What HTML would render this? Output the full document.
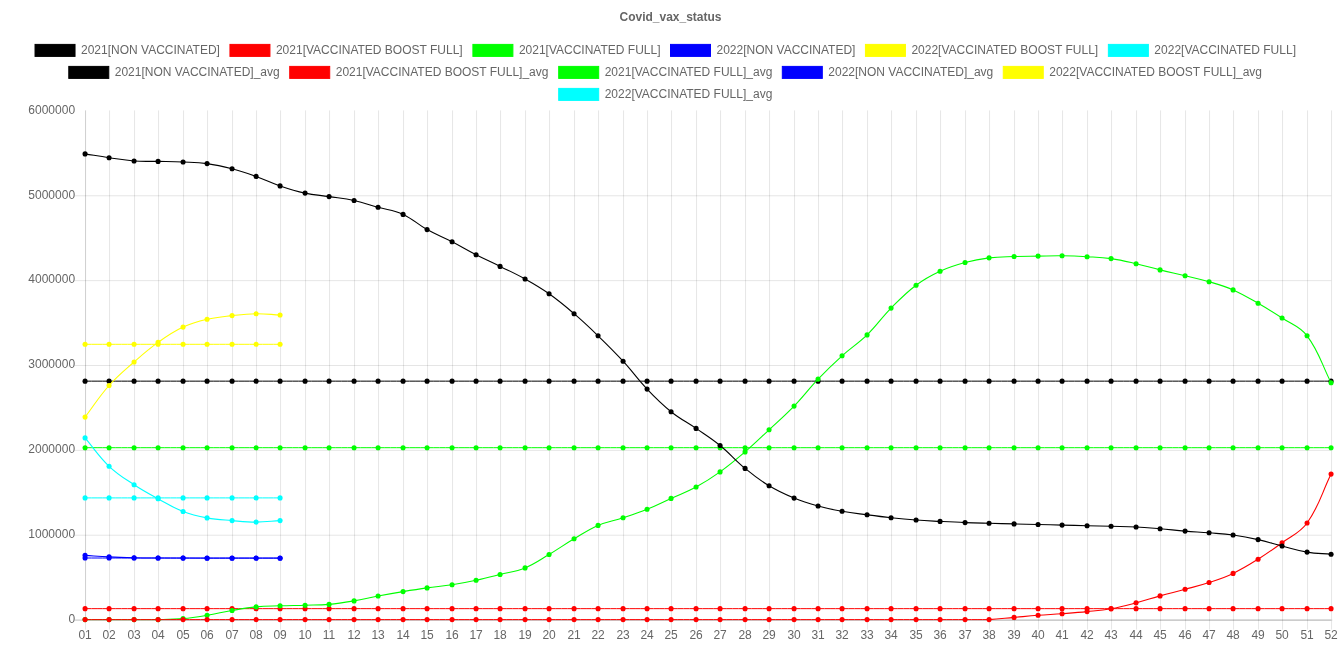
<!DOCTYPE html>
<html lang="en"><head><meta charset="utf-8"><title>Covid_vax_status</title>
<style>html,body{margin:0;padding:0;background:#fff;}body{width:1341px;height:670px;overflow:hidden;}svg{display:block;}</style></head>
<body>
<svg xmlns="http://www.w3.org/2000/svg" width="1341" height="670" viewBox="0 0 1341 670" font-family='"Liberation Sans", "Helvetica Neue", Helvetica, Arial, sans-serif' font-size="12" fill="#666">
<text x="670.5" y="21" text-anchor="middle" font-weight="bold">Covid_vax_status</text>
<rect x="35.03" y="44.4" width="40" height="12" fill="#000000" stroke="#000000" stroke-width="1"/>
<text x="81.03" y="54">2021[NON VACCINATED]</text>
<rect x="229.95" y="44.4" width="40" height="12" fill="#ff0000" stroke="#ff0000" stroke-width="1"/>
<text x="275.95" y="54">2021[VACCINATED BOOST FULL]</text>
<rect x="472.9" y="44.4" width="40" height="12" fill="#00ff00" stroke="#00ff00" stroke-width="1"/>
<text x="518.9" y="54">2021[VACCINATED FULL]</text>
<rect x="670.5" y="44.4" width="40" height="12" fill="#0000ff" stroke="#0000ff" stroke-width="1"/>
<text x="716.5" y="54">2022[NON VACCINATED]</text>
<rect x="865.43" y="44.4" width="40" height="12" fill="#ffff00" stroke="#ffff00" stroke-width="1"/>
<text x="911.43" y="54">2022[VACCINATED BOOST FULL]</text>
<rect x="1108.37" y="44.4" width="40" height="12" fill="#00ffff" stroke="#00ffff" stroke-width="1"/>
<text x="1154.37" y="54">2022[VACCINATED FULL]</text>
<rect x="68.78" y="66.4" width="40" height="12" fill="#000000" stroke="#000000" stroke-width="1"/>
<text x="114.78" y="76">2021[NON VACCINATED]_avg</text>
<rect x="289.72" y="66.4" width="40" height="12" fill="#ff0000" stroke="#ff0000" stroke-width="1"/>
<text x="335.72" y="76">2021[VACCINATED BOOST FULL]_avg</text>
<rect x="558.69" y="66.4" width="40" height="12" fill="#00ff00" stroke="#00ff00" stroke-width="1"/>
<text x="604.69" y="76">2021[VACCINATED FULL]_avg</text>
<rect x="782.31" y="66.4" width="40" height="12" fill="#0000ff" stroke="#0000ff" stroke-width="1"/>
<text x="828.31" y="76">2022[NON VACCINATED]_avg</text>
<rect x="1003.26" y="66.4" width="40" height="12" fill="#ffff00" stroke="#ffff00" stroke-width="1"/>
<text x="1049.26" y="76">2022[VACCINATED BOOST FULL]_avg</text>
<rect x="558.69" y="88.4" width="40" height="12" fill="#00ffff" stroke="#00ffff" stroke-width="1"/>
<text x="604.69" y="98">2022[VACCINATED FULL]_avg</text>
<g fill="none" stroke-width="1"><path d="M85.57 110.4V629.6" stroke="rgba(0,0,0,0.1)"/><path d="M109.57 110.4V629.6" stroke="rgba(0,0,0,0.1)"/><path d="M134.57 110.4V629.6" stroke="rgba(0,0,0,0.1)"/><path d="M158.57 110.4V629.6" stroke="rgba(0,0,0,0.1)"/><path d="M183.57 110.4V629.6" stroke="rgba(0,0,0,0.1)"/><path d="M207.57 110.4V629.6" stroke="rgba(0,0,0,0.1)"/><path d="M232.57 110.4V629.6" stroke="rgba(0,0,0,0.1)"/><path d="M256.57 110.4V629.6" stroke="rgba(0,0,0,0.1)"/><path d="M280.57 110.4V629.6" stroke="rgba(0,0,0,0.1)"/><path d="M305.57 110.4V629.6" stroke="rgba(0,0,0,0.1)"/><path d="M329.57 110.4V629.6" stroke="rgba(0,0,0,0.1)"/><path d="M354.57 110.4V629.6" stroke="rgba(0,0,0,0.1)"/><path d="M378.57 110.4V629.6" stroke="rgba(0,0,0,0.1)"/><path d="M403.57 110.4V629.6" stroke="rgba(0,0,0,0.1)"/><path d="M427.57 110.4V629.6" stroke="rgba(0,0,0,0.1)"/><path d="M452.57 110.4V629.6" stroke="rgba(0,0,0,0.1)"/><path d="M476.57 110.4V629.6" stroke="rgba(0,0,0,0.1)"/><path d="M500.57 110.4V629.6" stroke="rgba(0,0,0,0.1)"/><path d="M525.57 110.4V629.6" stroke="rgba(0,0,0,0.1)"/><path d="M549.57 110.4V629.6" stroke="rgba(0,0,0,0.1)"/><path d="M574.57 110.4V629.6" stroke="rgba(0,0,0,0.1)"/><path d="M598.57 110.4V629.6" stroke="rgba(0,0,0,0.1)"/><path d="M623.57 110.4V629.6" stroke="rgba(0,0,0,0.1)"/><path d="M647.57 110.4V629.6" stroke="rgba(0,0,0,0.1)"/><path d="M671.57 110.4V629.6" stroke="rgba(0,0,0,0.1)"/><path d="M696.57 110.4V629.6" stroke="rgba(0,0,0,0.1)"/><path d="M720.57 110.4V629.6" stroke="rgba(0,0,0,0.1)"/><path d="M745.57 110.4V629.6" stroke="rgba(0,0,0,0.1)"/><path d="M769.57 110.4V629.6" stroke="rgba(0,0,0,0.1)"/><path d="M794.57 110.4V629.6" stroke="rgba(0,0,0,0.1)"/><path d="M818.57 110.4V629.6" stroke="rgba(0,0,0,0.1)"/><path d="M842.57 110.4V629.6" stroke="rgba(0,0,0,0.1)"/><path d="M867.57 110.4V629.6" stroke="rgba(0,0,0,0.1)"/><path d="M891.57 110.4V629.6" stroke="rgba(0,0,0,0.1)"/><path d="M916.57 110.4V629.6" stroke="rgba(0,0,0,0.1)"/><path d="M940.57 110.4V629.6" stroke="rgba(0,0,0,0.1)"/><path d="M965.57 110.4V629.6" stroke="rgba(0,0,0,0.1)"/><path d="M989.57 110.4V629.6" stroke="rgba(0,0,0,0.1)"/><path d="M1014.57 110.4V629.6" stroke="rgba(0,0,0,0.1)"/><path d="M1038.57 110.4V629.6" stroke="rgba(0,0,0,0.1)"/><path d="M1062.57 110.4V629.6" stroke="rgba(0,0,0,0.1)"/><path d="M1087.57 110.4V629.6" stroke="rgba(0,0,0,0.1)"/><path d="M1111.57 110.4V629.6" stroke="rgba(0,0,0,0.1)"/><path d="M1136.57 110.4V629.6" stroke="rgba(0,0,0,0.1)"/><path d="M1160.57 110.4V629.6" stroke="rgba(0,0,0,0.1)"/><path d="M1185.57 110.4V629.6" stroke="rgba(0,0,0,0.1)"/><path d="M1209.57 110.4V629.6" stroke="rgba(0,0,0,0.1)"/><path d="M1233.57 110.4V629.6" stroke="rgba(0,0,0,0.1)"/><path d="M1258.57 110.4V629.6" stroke="rgba(0,0,0,0.1)"/><path d="M1282.57 110.4V629.6" stroke="rgba(0,0,0,0.1)"/><path d="M1307.57 110.4V629.6" stroke="rgba(0,0,0,0.1)"/><path d="M1331.57 110.4V629.6" stroke="rgba(0,0,0,0.1)"/><path d="M75.07 620.1H1331.25" stroke="rgba(0,0,0,0.25)"/><path d="M75.07 535.23H1331.25" stroke="rgba(0,0,0,0.1)"/><path d="M75.07 450.37H1331.25" stroke="rgba(0,0,0,0.1)"/><path d="M75.07 365.5H1331.25" stroke="rgba(0,0,0,0.1)"/><path d="M75.07 280.63H1331.25" stroke="rgba(0,0,0,0.1)"/><path d="M75.07 195.77H1331.25" stroke="rgba(0,0,0,0.1)"/><path d="M85.57 110.4V619.6" stroke="rgba(0,0,0,0.1)"/><path d="M85.07 620.1H1332.55" stroke="rgba(0,0,0,0.1)"/></g>
<text x="75.07" y="623" text-anchor="end">0</text>
<text x="75.07" y="538" text-anchor="end">1000000</text>
<text x="75.07" y="453" text-anchor="end">2000000</text>
<text x="75.07" y="368" text-anchor="end">3000000</text>
<text x="75.07" y="283" text-anchor="end">4000000</text>
<text x="75.07" y="199" text-anchor="end">5000000</text>
<text x="75.07" y="114" text-anchor="end">6000000</text>
<text x="85.07" y="639" text-anchor="middle">01</text>
<text x="109.07" y="639" text-anchor="middle">02</text>
<text x="134.07" y="639" text-anchor="middle">03</text>
<text x="158.07" y="639" text-anchor="middle">04</text>
<text x="183.07" y="639" text-anchor="middle">05</text>
<text x="207.07" y="639" text-anchor="middle">06</text>
<text x="232.07" y="639" text-anchor="middle">07</text>
<text x="256.07" y="639" text-anchor="middle">08</text>
<text x="280.07" y="639" text-anchor="middle">09</text>
<text x="305.07" y="639" text-anchor="middle">10</text>
<text x="329.07" y="639" text-anchor="middle">11</text>
<text x="354.07" y="639" text-anchor="middle">12</text>
<text x="378.07" y="639" text-anchor="middle">13</text>
<text x="403.07" y="639" text-anchor="middle">14</text>
<text x="427.07" y="639" text-anchor="middle">15</text>
<text x="452.07" y="639" text-anchor="middle">16</text>
<text x="476.07" y="639" text-anchor="middle">17</text>
<text x="500.07" y="639" text-anchor="middle">18</text>
<text x="525.07" y="639" text-anchor="middle">19</text>
<text x="549.07" y="639" text-anchor="middle">20</text>
<text x="574.07" y="639" text-anchor="middle">21</text>
<text x="598.07" y="639" text-anchor="middle">22</text>
<text x="623.07" y="639" text-anchor="middle">23</text>
<text x="647.07" y="639" text-anchor="middle">24</text>
<text x="671.07" y="639" text-anchor="middle">25</text>
<text x="696.07" y="639" text-anchor="middle">26</text>
<text x="720.07" y="639" text-anchor="middle">27</text>
<text x="745.07" y="639" text-anchor="middle">28</text>
<text x="769.07" y="639" text-anchor="middle">29</text>
<text x="794.07" y="639" text-anchor="middle">30</text>
<text x="818.07" y="639" text-anchor="middle">31</text>
<text x="842.07" y="639" text-anchor="middle">32</text>
<text x="867.07" y="639" text-anchor="middle">33</text>
<text x="891.07" y="639" text-anchor="middle">34</text>
<text x="916.07" y="639" text-anchor="middle">35</text>
<text x="940.07" y="639" text-anchor="middle">36</text>
<text x="965.07" y="639" text-anchor="middle">37</text>
<text x="989.07" y="639" text-anchor="middle">38</text>
<text x="1014.07" y="639" text-anchor="middle">39</text>
<text x="1038.07" y="639" text-anchor="middle">40</text>
<text x="1062.07" y="639" text-anchor="middle">41</text>
<text x="1087.07" y="639" text-anchor="middle">42</text>
<text x="1111.07" y="639" text-anchor="middle">43</text>
<text x="1136.07" y="639" text-anchor="middle">44</text>
<text x="1160.07" y="639" text-anchor="middle">45</text>
<text x="1185.07" y="639" text-anchor="middle">46</text>
<text x="1209.07" y="639" text-anchor="middle">47</text>
<text x="1233.07" y="639" text-anchor="middle">48</text>
<text x="1258.07" y="639" text-anchor="middle">49</text>
<text x="1282.07" y="639" text-anchor="middle">50</text>
<text x="1307.07" y="639" text-anchor="middle">51</text>
<text x="1331.07" y="639" text-anchor="middle">52</text>
<defs><clipPath id="ca"><rect x="85.07" y="110.4" width="1246.18" height="509.2"/></clipPath></defs>
<path d="M85.07 497.9C94.67 497.9 99.47 497.9 109.07 497.9C119.07 497.9 124.07 497.9 134.07 497.9C143.67 497.9 148.47 497.9 158.07 497.9C168.07 497.9 173.07 497.9 183.07 497.9C192.67 497.9 197.47 497.9 207.07 497.9C217.07 497.9 222.07 497.9 232.07 497.9C241.67 497.9 246.47 497.9 256.07 497.9C265.67 497.9 270.47 497.9 280.07 497.9" fill="none" stroke="#00ffff" stroke-width="1"/>
<g fill="#00ffff" stroke="#00ffff" stroke-width="0"><circle cx="85.07" cy="497.9" r="2.55"/><circle cx="109.07" cy="497.9" r="2.55"/><circle cx="134.07" cy="497.9" r="2.55"/><circle cx="158.07" cy="497.9" r="2.55"/><circle cx="183.07" cy="497.9" r="2.55"/><circle cx="207.07" cy="497.9" r="2.55"/><circle cx="232.07" cy="497.9" r="2.55"/><circle cx="256.07" cy="497.9" r="2.55"/><circle cx="280.07" cy="497.9" r="2.55"/></g>
<path d="M85.07 344.3C94.67 344.3 99.47 344.3 109.07 344.3C119.07 344.3 124.07 344.3 134.07 344.3C143.67 344.3 148.47 344.3 158.07 344.3C168.07 344.3 173.07 344.3 183.07 344.3C192.67 344.3 197.47 344.3 207.07 344.3C217.07 344.3 222.07 344.3 232.07 344.3C241.67 344.3 246.47 344.3 256.07 344.3C265.67 344.3 270.47 344.3 280.07 344.3" fill="none" stroke="#ffff00" stroke-width="1"/>
<g fill="#ffff00" stroke="#ffff00" stroke-width="0"><circle cx="85.07" cy="344.3" r="2.55"/><circle cx="109.07" cy="344.3" r="2.55"/><circle cx="134.07" cy="344.3" r="2.55"/><circle cx="158.07" cy="344.3" r="2.55"/><circle cx="183.07" cy="344.3" r="2.55"/><circle cx="207.07" cy="344.3" r="2.55"/><circle cx="232.07" cy="344.3" r="2.55"/><circle cx="256.07" cy="344.3" r="2.55"/><circle cx="280.07" cy="344.3" r="2.55"/></g>
<path d="M85.07 558C94.67 558 99.47 558 109.07 558C119.07 558 124.07 558 134.07 558C143.67 558 148.47 558 158.07 558C168.07 558 173.07 558 183.07 558C192.67 558 197.47 558 207.07 558C217.07 558 222.07 558 232.07 558C241.67 558 246.47 558 256.07 558C265.67 558 270.47 558 280.07 558" fill="none" stroke="#0000ff" stroke-width="1"/>
<g fill="#0000ff" stroke="#0000ff" stroke-width="0"><circle cx="85.07" cy="558" r="2.55"/><circle cx="109.07" cy="558" r="2.55"/><circle cx="134.07" cy="558" r="2.55"/><circle cx="158.07" cy="558" r="2.55"/><circle cx="183.07" cy="558" r="2.55"/><circle cx="207.07" cy="558" r="2.55"/><circle cx="232.07" cy="558" r="2.55"/><circle cx="256.07" cy="558" r="2.55"/><circle cx="280.07" cy="558" r="2.55"/></g>
<path d="M85.07 447.7C94.67 447.7 99.47 447.7 109.07 447.7C119.07 447.7 124.07 447.7 134.07 447.7C143.67 447.7 148.47 447.7 158.07 447.7C168.07 447.7 173.07 447.7 183.07 447.7C192.67 447.7 197.47 447.7 207.07 447.7C217.07 447.7 222.07 447.7 232.07 447.7C241.67 447.7 246.47 447.7 256.07 447.7C265.67 447.7 270.47 447.7 280.07 447.7C290.07 447.7 295.07 447.7 305.07 447.7C314.67 447.7 319.47 447.7 329.07 447.7C339.07 447.7 344.07 447.7 354.07 447.7C363.67 447.7 368.47 447.7 378.07 447.7C388.07 447.7 393.07 447.7 403.07 447.7C412.67 447.7 417.47 447.7 427.07 447.7C437.07 447.7 442.07 447.7 452.07 447.7C461.67 447.7 466.47 447.7 476.07 447.7C485.67 447.7 490.47 447.7 500.07 447.7C510.07 447.7 515.07 447.7 525.07 447.7C534.67 447.7 539.47 447.7 549.07 447.7C559.07 447.7 564.07 447.7 574.07 447.7C583.67 447.7 588.47 447.7 598.07 447.7C608.07 447.7 613.07 447.7 623.07 447.7C632.67 447.7 637.47 447.7 647.07 447.7C656.67 447.7 661.47 447.7 671.07 447.7C681.07 447.7 686.07 447.7 696.07 447.7C705.67 447.7 710.47 447.7 720.07 447.7C730.07 447.7 735.07 447.7 745.07 447.7C754.67 447.7 759.47 447.7 769.07 447.7C779.07 447.7 784.07 447.7 794.07 447.7C803.67 447.7 808.47 447.7 818.07 447.7C827.67 447.7 832.47 447.7 842.07 447.7C852.07 447.7 857.07 447.7 867.07 447.7C876.67 447.7 881.47 447.7 891.07 447.7C901.07 447.7 906.07 447.7 916.07 447.7C925.67 447.7 930.47 447.7 940.07 447.7C950.07 447.7 955.07 447.7 965.07 447.7C974.67 447.7 979.47 447.7 989.07 447.7C999.07 447.7 1004.07 447.7 1014.07 447.7C1023.67 447.7 1028.47 447.7 1038.07 447.7C1047.67 447.7 1052.47 447.7 1062.07 447.7C1072.07 447.7 1077.07 447.7 1087.07 447.7C1096.67 447.7 1101.47 447.7 1111.07 447.7C1121.07 447.7 1126.07 447.7 1136.07 447.7C1145.67 447.7 1150.47 447.7 1160.07 447.7C1170.07 447.7 1175.07 447.7 1185.07 447.7C1194.67 447.7 1199.47 447.7 1209.07 447.7C1218.67 447.7 1223.47 447.7 1233.07 447.7C1243.07 447.7 1248.07 447.7 1258.07 447.7C1267.67 447.7 1272.47 447.7 1282.07 447.7C1292.07 447.7 1297.07 447.7 1307.07 447.7C1316.67 447.7 1321.47 447.7 1331.07 447.7" fill="none" stroke="#00ff00" stroke-width="1"/>
<g fill="#00ff00" stroke="#00ff00" stroke-width="0"><circle cx="85.07" cy="447.7" r="2.55"/><circle cx="109.07" cy="447.7" r="2.55"/><circle cx="134.07" cy="447.7" r="2.55"/><circle cx="158.07" cy="447.7" r="2.55"/><circle cx="183.07" cy="447.7" r="2.55"/><circle cx="207.07" cy="447.7" r="2.55"/><circle cx="232.07" cy="447.7" r="2.55"/><circle cx="256.07" cy="447.7" r="2.55"/><circle cx="280.07" cy="447.7" r="2.55"/><circle cx="305.07" cy="447.7" r="2.55"/><circle cx="329.07" cy="447.7" r="2.55"/><circle cx="354.07" cy="447.7" r="2.55"/><circle cx="378.07" cy="447.7" r="2.55"/><circle cx="403.07" cy="447.7" r="2.55"/><circle cx="427.07" cy="447.7" r="2.55"/><circle cx="452.07" cy="447.7" r="2.55"/><circle cx="476.07" cy="447.7" r="2.55"/><circle cx="500.07" cy="447.7" r="2.55"/><circle cx="525.07" cy="447.7" r="2.55"/><circle cx="549.07" cy="447.7" r="2.55"/><circle cx="574.07" cy="447.7" r="2.55"/><circle cx="598.07" cy="447.7" r="2.55"/><circle cx="623.07" cy="447.7" r="2.55"/><circle cx="647.07" cy="447.7" r="2.55"/><circle cx="671.07" cy="447.7" r="2.55"/><circle cx="696.07" cy="447.7" r="2.55"/><circle cx="720.07" cy="447.7" r="2.55"/><circle cx="745.07" cy="447.7" r="2.55"/><circle cx="769.07" cy="447.7" r="2.55"/><circle cx="794.07" cy="447.7" r="2.55"/><circle cx="818.07" cy="447.7" r="2.55"/><circle cx="842.07" cy="447.7" r="2.55"/><circle cx="867.07" cy="447.7" r="2.55"/><circle cx="891.07" cy="447.7" r="2.55"/><circle cx="916.07" cy="447.7" r="2.55"/><circle cx="940.07" cy="447.7" r="2.55"/><circle cx="965.07" cy="447.7" r="2.55"/><circle cx="989.07" cy="447.7" r="2.55"/><circle cx="1014.07" cy="447.7" r="2.55"/><circle cx="1038.07" cy="447.7" r="2.55"/><circle cx="1062.07" cy="447.7" r="2.55"/><circle cx="1087.07" cy="447.7" r="2.55"/><circle cx="1111.07" cy="447.7" r="2.55"/><circle cx="1136.07" cy="447.7" r="2.55"/><circle cx="1160.07" cy="447.7" r="2.55"/><circle cx="1185.07" cy="447.7" r="2.55"/><circle cx="1209.07" cy="447.7" r="2.55"/><circle cx="1233.07" cy="447.7" r="2.55"/><circle cx="1258.07" cy="447.7" r="2.55"/><circle cx="1282.07" cy="447.7" r="2.55"/><circle cx="1307.07" cy="447.7" r="2.55"/><circle cx="1331.07" cy="447.7" r="2.55"/></g>
<path d="M85.07 608.65C94.67 608.65 99.47 608.65 109.07 608.65C119.07 608.65 124.07 608.65 134.07 608.65C143.67 608.65 148.47 608.65 158.07 608.65C168.07 608.65 173.07 608.65 183.07 608.65C192.67 608.65 197.47 608.65 207.07 608.65C217.07 608.65 222.07 608.65 232.07 608.65C241.67 608.65 246.47 608.65 256.07 608.65C265.67 608.65 270.47 608.65 280.07 608.65C290.07 608.65 295.07 608.65 305.07 608.65C314.67 608.65 319.47 608.65 329.07 608.65C339.07 608.65 344.07 608.65 354.07 608.65C363.67 608.65 368.47 608.65 378.07 608.65C388.07 608.65 393.07 608.65 403.07 608.65C412.67 608.65 417.47 608.65 427.07 608.65C437.07 608.65 442.07 608.65 452.07 608.65C461.67 608.65 466.47 608.65 476.07 608.65C485.67 608.65 490.47 608.65 500.07 608.65C510.07 608.65 515.07 608.65 525.07 608.65C534.67 608.65 539.47 608.65 549.07 608.65C559.07 608.65 564.07 608.65 574.07 608.65C583.67 608.65 588.47 608.65 598.07 608.65C608.07 608.65 613.07 608.65 623.07 608.65C632.67 608.65 637.47 608.65 647.07 608.65C656.67 608.65 661.47 608.65 671.07 608.65C681.07 608.65 686.07 608.65 696.07 608.65C705.67 608.65 710.47 608.65 720.07 608.65C730.07 608.65 735.07 608.65 745.07 608.65C754.67 608.65 759.47 608.65 769.07 608.65C779.07 608.65 784.07 608.65 794.07 608.65C803.67 608.65 808.47 608.65 818.07 608.65C827.67 608.65 832.47 608.65 842.07 608.65C852.07 608.65 857.07 608.65 867.07 608.65C876.67 608.65 881.47 608.65 891.07 608.65C901.07 608.65 906.07 608.65 916.07 608.65C925.67 608.65 930.47 608.65 940.07 608.65C950.07 608.65 955.07 608.65 965.07 608.65C974.67 608.65 979.47 608.65 989.07 608.65C999.07 608.65 1004.07 608.65 1014.07 608.65C1023.67 608.65 1028.47 608.65 1038.07 608.65C1047.67 608.65 1052.47 608.65 1062.07 608.65C1072.07 608.65 1077.07 608.65 1087.07 608.65C1096.67 608.65 1101.47 608.65 1111.07 608.65C1121.07 608.65 1126.07 608.65 1136.07 608.65C1145.67 608.65 1150.47 608.65 1160.07 608.65C1170.07 608.65 1175.07 608.65 1185.07 608.65C1194.67 608.65 1199.47 608.65 1209.07 608.65C1218.67 608.65 1223.47 608.65 1233.07 608.65C1243.07 608.65 1248.07 608.65 1258.07 608.65C1267.67 608.65 1272.47 608.65 1282.07 608.65C1292.07 608.65 1297.07 608.65 1307.07 608.65C1316.67 608.65 1321.47 608.65 1331.07 608.65" fill="none" stroke="#ff0000" stroke-width="1"/>
<g fill="#ff0000" stroke="#ff0000" stroke-width="0"><circle cx="85.07" cy="608.65" r="2.55"/><circle cx="109.07" cy="608.65" r="2.55"/><circle cx="134.07" cy="608.65" r="2.55"/><circle cx="158.07" cy="608.65" r="2.55"/><circle cx="183.07" cy="608.65" r="2.55"/><circle cx="207.07" cy="608.65" r="2.55"/><circle cx="232.07" cy="608.65" r="2.55"/><circle cx="256.07" cy="608.65" r="2.55"/><circle cx="280.07" cy="608.65" r="2.55"/><circle cx="305.07" cy="608.65" r="2.55"/><circle cx="329.07" cy="608.65" r="2.55"/><circle cx="354.07" cy="608.65" r="2.55"/><circle cx="378.07" cy="608.65" r="2.55"/><circle cx="403.07" cy="608.65" r="2.55"/><circle cx="427.07" cy="608.65" r="2.55"/><circle cx="452.07" cy="608.65" r="2.55"/><circle cx="476.07" cy="608.65" r="2.55"/><circle cx="500.07" cy="608.65" r="2.55"/><circle cx="525.07" cy="608.65" r="2.55"/><circle cx="549.07" cy="608.65" r="2.55"/><circle cx="574.07" cy="608.65" r="2.55"/><circle cx="598.07" cy="608.65" r="2.55"/><circle cx="623.07" cy="608.65" r="2.55"/><circle cx="647.07" cy="608.65" r="2.55"/><circle cx="671.07" cy="608.65" r="2.55"/><circle cx="696.07" cy="608.65" r="2.55"/><circle cx="720.07" cy="608.65" r="2.55"/><circle cx="745.07" cy="608.65" r="2.55"/><circle cx="769.07" cy="608.65" r="2.55"/><circle cx="794.07" cy="608.65" r="2.55"/><circle cx="818.07" cy="608.65" r="2.55"/><circle cx="842.07" cy="608.65" r="2.55"/><circle cx="867.07" cy="608.65" r="2.55"/><circle cx="891.07" cy="608.65" r="2.55"/><circle cx="916.07" cy="608.65" r="2.55"/><circle cx="940.07" cy="608.65" r="2.55"/><circle cx="965.07" cy="608.65" r="2.55"/><circle cx="989.07" cy="608.65" r="2.55"/><circle cx="1014.07" cy="608.65" r="2.55"/><circle cx="1038.07" cy="608.65" r="2.55"/><circle cx="1062.07" cy="608.65" r="2.55"/><circle cx="1087.07" cy="608.65" r="2.55"/><circle cx="1111.07" cy="608.65" r="2.55"/><circle cx="1136.07" cy="608.65" r="2.55"/><circle cx="1160.07" cy="608.65" r="2.55"/><circle cx="1185.07" cy="608.65" r="2.55"/><circle cx="1209.07" cy="608.65" r="2.55"/><circle cx="1233.07" cy="608.65" r="2.55"/><circle cx="1258.07" cy="608.65" r="2.55"/><circle cx="1282.07" cy="608.65" r="2.55"/><circle cx="1307.07" cy="608.65" r="2.55"/><circle cx="1331.07" cy="608.65" r="2.55"/></g>
<path d="M85.07 381.15C94.67 381.15 99.47 381.15 109.07 381.15C119.07 381.15 124.07 381.15 134.07 381.15C143.67 381.15 148.47 381.15 158.07 381.15C168.07 381.15 173.07 381.15 183.07 381.15C192.67 381.15 197.47 381.15 207.07 381.15C217.07 381.15 222.07 381.15 232.07 381.15C241.67 381.15 246.47 381.15 256.07 381.15C265.67 381.15 270.47 381.15 280.07 381.15C290.07 381.15 295.07 381.15 305.07 381.15C314.67 381.15 319.47 381.15 329.07 381.15C339.07 381.15 344.07 381.15 354.07 381.15C363.67 381.15 368.47 381.15 378.07 381.15C388.07 381.15 393.07 381.15 403.07 381.15C412.67 381.15 417.47 381.15 427.07 381.15C437.07 381.15 442.07 381.15 452.07 381.15C461.67 381.15 466.47 381.15 476.07 381.15C485.67 381.15 490.47 381.15 500.07 381.15C510.07 381.15 515.07 381.15 525.07 381.15C534.67 381.15 539.47 381.15 549.07 381.15C559.07 381.15 564.07 381.15 574.07 381.15C583.67 381.15 588.47 381.15 598.07 381.15C608.07 381.15 613.07 381.15 623.07 381.15C632.67 381.15 637.47 381.15 647.07 381.15C656.67 381.15 661.47 381.15 671.07 381.15C681.07 381.15 686.07 381.15 696.07 381.15C705.67 381.15 710.47 381.15 720.07 381.15C730.07 381.15 735.07 381.15 745.07 381.15C754.67 381.15 759.47 381.15 769.07 381.15C779.07 381.15 784.07 381.15 794.07 381.15C803.67 381.15 808.47 381.15 818.07 381.15C827.67 381.15 832.47 381.15 842.07 381.15C852.07 381.15 857.07 381.15 867.07 381.15C876.67 381.15 881.47 381.15 891.07 381.15C901.07 381.15 906.07 381.15 916.07 381.15C925.67 381.15 930.47 381.15 940.07 381.15C950.07 381.15 955.07 381.15 965.07 381.15C974.67 381.15 979.47 381.15 989.07 381.15C999.07 381.15 1004.07 381.15 1014.07 381.15C1023.67 381.15 1028.47 381.15 1038.07 381.15C1047.67 381.15 1052.47 381.15 1062.07 381.15C1072.07 381.15 1077.07 381.15 1087.07 381.15C1096.67 381.15 1101.47 381.15 1111.07 381.15C1121.07 381.15 1126.07 381.15 1136.07 381.15C1145.67 381.15 1150.47 381.15 1160.07 381.15C1170.07 381.15 1175.07 381.15 1185.07 381.15C1194.67 381.15 1199.47 381.15 1209.07 381.15C1218.67 381.15 1223.47 381.15 1233.07 381.15C1243.07 381.15 1248.07 381.15 1258.07 381.15C1267.67 381.15 1272.47 381.15 1282.07 381.15C1292.07 381.15 1297.07 381.15 1307.07 381.15C1316.67 381.15 1321.47 381.15 1331.07 381.15" fill="none" stroke="#000000" stroke-width="1"/>
<g fill="#000000" stroke="#000000" stroke-width="0"><circle cx="85.07" cy="381.15" r="2.55"/><circle cx="109.07" cy="381.15" r="2.55"/><circle cx="134.07" cy="381.15" r="2.55"/><circle cx="158.07" cy="381.15" r="2.55"/><circle cx="183.07" cy="381.15" r="2.55"/><circle cx="207.07" cy="381.15" r="2.55"/><circle cx="232.07" cy="381.15" r="2.55"/><circle cx="256.07" cy="381.15" r="2.55"/><circle cx="280.07" cy="381.15" r="2.55"/><circle cx="305.07" cy="381.15" r="2.55"/><circle cx="329.07" cy="381.15" r="2.55"/><circle cx="354.07" cy="381.15" r="2.55"/><circle cx="378.07" cy="381.15" r="2.55"/><circle cx="403.07" cy="381.15" r="2.55"/><circle cx="427.07" cy="381.15" r="2.55"/><circle cx="452.07" cy="381.15" r="2.55"/><circle cx="476.07" cy="381.15" r="2.55"/><circle cx="500.07" cy="381.15" r="2.55"/><circle cx="525.07" cy="381.15" r="2.55"/><circle cx="549.07" cy="381.15" r="2.55"/><circle cx="574.07" cy="381.15" r="2.55"/><circle cx="598.07" cy="381.15" r="2.55"/><circle cx="623.07" cy="381.15" r="2.55"/><circle cx="647.07" cy="381.15" r="2.55"/><circle cx="671.07" cy="381.15" r="2.55"/><circle cx="696.07" cy="381.15" r="2.55"/><circle cx="720.07" cy="381.15" r="2.55"/><circle cx="745.07" cy="381.15" r="2.55"/><circle cx="769.07" cy="381.15" r="2.55"/><circle cx="794.07" cy="381.15" r="2.55"/><circle cx="818.07" cy="381.15" r="2.55"/><circle cx="842.07" cy="381.15" r="2.55"/><circle cx="867.07" cy="381.15" r="2.55"/><circle cx="891.07" cy="381.15" r="2.55"/><circle cx="916.07" cy="381.15" r="2.55"/><circle cx="940.07" cy="381.15" r="2.55"/><circle cx="965.07" cy="381.15" r="2.55"/><circle cx="989.07" cy="381.15" r="2.55"/><circle cx="1014.07" cy="381.15" r="2.55"/><circle cx="1038.07" cy="381.15" r="2.55"/><circle cx="1062.07" cy="381.15" r="2.55"/><circle cx="1087.07" cy="381.15" r="2.55"/><circle cx="1111.07" cy="381.15" r="2.55"/><circle cx="1136.07" cy="381.15" r="2.55"/><circle cx="1160.07" cy="381.15" r="2.55"/><circle cx="1185.07" cy="381.15" r="2.55"/><circle cx="1209.07" cy="381.15" r="2.55"/><circle cx="1233.07" cy="381.15" r="2.55"/><circle cx="1258.07" cy="381.15" r="2.55"/><circle cx="1282.07" cy="381.15" r="2.55"/><circle cx="1307.07" cy="381.15" r="2.55"/><circle cx="1331.07" cy="381.15" r="2.55"/></g>
<path d="M85.07 437.9C94.67 449.26 98.39 456.1 109.07 466.3C117.99 474.82 123.73 477.86 134.07 484.7C143.33 490.82 148.32 493.37 158.07 498.7C167.92 504.09 172.67 507.42 183.07 511.5C192.27 515.1 197.33 516.09 207.07 517.9C216.93 519.73 222.05 519.74 232.07 520.6C241.65 521.42 246.47 522.1 256.07 522.1C265.67 522.1 270.47 521.2 280.07 520.6" fill="none" stroke="#00ffff" stroke-width="1.1"/>
<g fill="#00ffff" stroke="#00ffff" stroke-width="0"><circle cx="85.07" cy="437.9" r="2.55"/><circle cx="109.07" cy="466.3" r="2.55"/><circle cx="134.07" cy="484.7" r="2.55"/><circle cx="158.07" cy="498.7" r="2.55"/><circle cx="183.07" cy="511.5" r="2.55"/><circle cx="207.07" cy="517.9" r="2.55"/><circle cx="232.07" cy="520.6" r="2.55"/><circle cx="256.07" cy="522.1" r="2.55"/><circle cx="280.07" cy="520.6" r="2.55"/></g>
<path d="M85.07 417.1C94.67 404.46 98.56 397.32 109.07 385.5C118.16 375.28 123.77 371.06 134.07 362C143.37 353.82 148 349.57 158.07 342.4C167.6 335.61 172.54 332.07 183.07 327.1C192.14 322.83 197.28 321.6 207.07 319.3C216.88 317 222.03 316.75 232.07 315.6C241.63 314.51 246.46 313.82 256.07 313.7C265.66 313.58 270.47 314.48 280.07 315" fill="none" stroke="#ffff00" stroke-width="1.1"/>
<g fill="#ffff00" stroke="#ffff00" stroke-width="0"><circle cx="85.07" cy="417.1" r="2.55"/><circle cx="109.07" cy="385.5" r="2.55"/><circle cx="134.07" cy="362" r="2.55"/><circle cx="158.07" cy="342.4" r="2.55"/><circle cx="183.07" cy="327.1" r="2.55"/><circle cx="207.07" cy="319.3" r="2.55"/><circle cx="232.07" cy="315.6" r="2.55"/><circle cx="256.07" cy="313.7" r="2.55"/><circle cx="280.07" cy="315" r="2.55"/></g>
<path d="M85.07 555.4C94.67 556 99.46 556.45 109.07 556.9C119.06 557.37 124.07 557.48 134.07 557.7C143.67 557.92 148.47 557.92 158.07 558" fill="none" stroke="#0000ff" stroke-width="1.1"/>
<path d="M158.07 558C168.07 558.08 173.07 558.06 183.07 558.1C192.67 558.14 197.47 558.18 207.07 558.2C217.07 558.22 222.07 558.2 232.07 558.2C241.67 558.2 246.47 558.2 256.07 558.2C265.67 558.2 270.47 558.2 280.07 558.2" fill="none" stroke="#0000ff" stroke-width="1"/>
<g fill="#0000ff" stroke="#0000ff" stroke-width="0"><circle cx="85.07" cy="555.4" r="2.55"/><circle cx="109.07" cy="556.9" r="2.55"/><circle cx="134.07" cy="557.7" r="2.55"/><circle cx="158.07" cy="558" r="2.55"/><circle cx="183.07" cy="558.1" r="2.55"/><circle cx="207.07" cy="558.2" r="2.55"/><circle cx="232.07" cy="558.2" r="2.55"/><circle cx="256.07" cy="558.2" r="2.55"/><circle cx="280.07" cy="558.2" r="2.55"/></g>
<path d="M85.07 619.6C94.67 619.6 99.47 619.6 109.07 619.6C119.07 619.6 124.07 619.6 134.07 619.6C143.67 619.6 148.47 619.6 158.07 619.6" fill="none" stroke="#00ff00" stroke-width="1"/>
<path d="M158.07 619.6C168.07 619.4 173.11 619.47 183.07 618.6C192.71 617.75 197.51 616.88 207.07 615.3C217.11 613.64 222.04 612.22 232.07 610.5C241.64 608.86 246.42 607.84 256.07 606.9C265.62 605.96 270.47 606.13 280.07 605.8C290.07 605.45 295.07 605.49 305.07 605.2C314.67 604.93 319.51 605.24 329.07 604.4C339.11 603.52 344.12 602.61 354.07 600.9C363.72 599.25 368.44 597.83 378.07 596C388.04 594.11 393.05 593.26 403.07 591.6C412.65 590.02 417.45 589.24 427.07 587.9C437.05 586.52 442.12 586.34 452.07 584.8C461.72 583.3 466.52 582.35 476.07 580.3C485.72 578.23 490.5 576.92 500.07 574.5C510.1 571.96 515.57 571.78 525.07 567.9C535.17 563.78 539.62 560.11 549.07 554.5C559.22 548.47 563.92 544.83 574.07 538.8C583.52 533.19 588.02 529.71 598.07 525.4C607.62 521.31 613.14 521.06 623.07 517.8C632.74 514.62 637.64 513.11 647.07 509.3C656.84 505.35 661.47 502.77 671.07 498.4C681.07 493.85 686.42 492.22 696.07 487C706.02 481.62 710.86 478.49 720.07 471.9C730.46 464.45 735.36 460.24 745.07 451.9C754.96 443.4 759.54 438.71 769.07 429.8C779.14 420.39 784.5 416 794.07 406.1C804.1 395.72 808.1 389.55 818.07 379.1C827.3 369.43 832.14 364.76 842.07 355.8C851.74 347.08 857.75 343.97 867.07 334.9C877.35 324.89 880.98 318.33 891.07 308.1C900.58 298.45 905.3 293.31 916.07 285.2C924.9 278.55 930.03 275.85 940.07 271.2C949.63 266.77 954.88 265.28 965.07 262.5C974.48 259.94 979.39 259.04 989.07 257.85C998.99 256.64 1004.06 256.86 1014.07 256.5C1023.66 256.16 1028.47 256.24 1038.07 256.1C1047.67 255.96 1052.47 255.68 1062.07 255.8C1072.07 255.92 1077.08 256.13 1087.07 256.7C1096.68 257.25 1101.55 257.24 1111.07 258.6C1121.15 260.04 1126.13 261.41 1136.07 263.7C1145.73 265.93 1150.44 267.54 1160.07 269.9C1170.04 272.34 1175.09 273.3 1185.07 275.7C1194.69 278.02 1199.59 278.9 1209.07 281.7C1218.79 284.58 1223.82 285.82 1233.07 289.9C1243.42 294.46 1248.23 297.66 1258.07 303.3C1267.83 308.9 1272.69 311.78 1282.07 318C1292.29 324.78 1299.86 326.27 1307.07 335.8C1319.46 352.15 1321.47 363.94 1331.07 382.7" fill="none" stroke="#00ff00" stroke-width="1.1"/>
<g fill="#00ff00" stroke="#00ff00" stroke-width="0"><circle cx="85.07" cy="619.6" r="2.55"/><circle cx="109.07" cy="619.6" r="2.55"/><circle cx="134.07" cy="619.6" r="2.55"/><circle cx="158.07" cy="619.6" r="2.55"/><circle cx="183.07" cy="618.6" r="2.55"/><circle cx="207.07" cy="615.3" r="2.55"/><circle cx="232.07" cy="610.5" r="2.55"/><circle cx="256.07" cy="606.9" r="2.55"/><circle cx="280.07" cy="605.8" r="2.55"/><circle cx="305.07" cy="605.2" r="2.55"/><circle cx="329.07" cy="604.4" r="2.55"/><circle cx="354.07" cy="600.9" r="2.55"/><circle cx="378.07" cy="596" r="2.55"/><circle cx="403.07" cy="591.6" r="2.55"/><circle cx="427.07" cy="587.9" r="2.55"/><circle cx="452.07" cy="584.8" r="2.55"/><circle cx="476.07" cy="580.3" r="2.55"/><circle cx="500.07" cy="574.5" r="2.55"/><circle cx="525.07" cy="567.9" r="2.55"/><circle cx="549.07" cy="554.5" r="2.55"/><circle cx="574.07" cy="538.8" r="2.55"/><circle cx="598.07" cy="525.4" r="2.55"/><circle cx="623.07" cy="517.8" r="2.55"/><circle cx="647.07" cy="509.3" r="2.55"/><circle cx="671.07" cy="498.4" r="2.55"/><circle cx="696.07" cy="487" r="2.55"/><circle cx="720.07" cy="471.9" r="2.55"/><circle cx="745.07" cy="451.9" r="2.55"/><circle cx="769.07" cy="429.8" r="2.55"/><circle cx="794.07" cy="406.1" r="2.55"/><circle cx="818.07" cy="379.1" r="2.55"/><circle cx="842.07" cy="355.8" r="2.55"/><circle cx="867.07" cy="334.9" r="2.55"/><circle cx="891.07" cy="308.1" r="2.55"/><circle cx="916.07" cy="285.2" r="2.55"/><circle cx="940.07" cy="271.2" r="2.55"/><circle cx="965.07" cy="262.5" r="2.55"/><circle cx="989.07" cy="257.85" r="2.55"/><circle cx="1014.07" cy="256.5" r="2.55"/><circle cx="1038.07" cy="256.1" r="2.55"/><circle cx="1062.07" cy="255.8" r="2.55"/><circle cx="1087.07" cy="256.7" r="2.55"/><circle cx="1111.07" cy="258.6" r="2.55"/><circle cx="1136.07" cy="263.7" r="2.55"/><circle cx="1160.07" cy="269.9" r="2.55"/><circle cx="1185.07" cy="275.7" r="2.55"/><circle cx="1209.07" cy="281.7" r="2.55"/><circle cx="1233.07" cy="289.9" r="2.55"/><circle cx="1258.07" cy="303.3" r="2.55"/><circle cx="1282.07" cy="318" r="2.55"/><circle cx="1307.07" cy="335.8" r="2.55"/><circle cx="1331.07" cy="382.7" r="2.55"/></g>
<path d="M85.07 619.6C94.67 619.6 99.47 619.6 109.07 619.6C119.07 619.6 124.07 619.6 134.07 619.6C143.67 619.6 148.47 619.6 158.07 619.6C168.07 619.6 173.07 619.6 183.07 619.6C192.67 619.6 197.47 619.6 207.07 619.6C217.07 619.6 222.07 619.6 232.07 619.6C241.67 619.6 246.47 619.6 256.07 619.6C265.67 619.6 270.47 619.6 280.07 619.6C290.07 619.6 295.07 619.6 305.07 619.6C314.67 619.6 319.47 619.6 329.07 619.6C339.07 619.6 344.07 619.6 354.07 619.6C363.67 619.6 368.47 619.6 378.07 619.6C388.07 619.6 393.07 619.6 403.07 619.6C412.67 619.6 417.47 619.6 427.07 619.6C437.07 619.6 442.07 619.6 452.07 619.6C461.67 619.6 466.47 619.6 476.07 619.6C485.67 619.6 490.47 619.6 500.07 619.6C510.07 619.6 515.07 619.6 525.07 619.6C534.67 619.6 539.47 619.6 549.07 619.6C559.07 619.6 564.07 619.6 574.07 619.6C583.67 619.6 588.47 619.6 598.07 619.6C608.07 619.6 613.07 619.6 623.07 619.6C632.67 619.6 637.47 619.6 647.07 619.6C656.67 619.6 661.47 619.6 671.07 619.6C681.07 619.6 686.07 619.6 696.07 619.6C705.67 619.6 710.47 619.6 720.07 619.6C730.07 619.6 735.07 619.6 745.07 619.6C754.67 619.6 759.47 619.6 769.07 619.6C779.07 619.6 784.07 619.6 794.07 619.6C803.67 619.6 808.47 619.6 818.07 619.6C827.67 619.6 832.47 619.6 842.07 619.6C852.07 619.6 857.07 619.6 867.07 619.6C876.67 619.6 881.47 619.6 891.07 619.6C901.07 619.6 906.07 619.6 916.07 619.6C925.67 619.6 930.47 619.6 940.07 619.6C950.07 619.6 955.07 619.6 965.07 619.6C974.67 619.6 979.49 619.6 989.07 619.6" fill="none" stroke="#ff0000" stroke-width="1"/>
<path d="M989.07 619.6C999.09 619.15 1004.07 618.28 1014.07 617.4C1023.67 616.56 1028.46 616.04 1038.07 615.3C1047.66 614.56 1052.48 614.42 1062.07 613.7C1072.08 612.94 1077.09 612.62 1087.07 611.6C1096.69 610.62 1101.57 610.4 1111.07 608.7C1121.17 606.9 1126.14 605.44 1136.07 602.85C1145.74 600.32 1150.44 598.56 1160.07 595.9C1170.04 593.14 1175.09 592.03 1185.07 589.3C1194.69 586.67 1199.61 585.63 1209.07 582.5C1218.81 579.27 1223.83 577.8 1233.07 573.4C1243.43 568.48 1248.33 565.3 1258.07 559.2C1267.93 553.02 1272.7 549.62 1282.07 542.7C1292.3 535.14 1299.84 533.12 1307.07 523C1319.44 505.68 1321.47 493.66 1331.07 474.1" fill="none" stroke="#ff0000" stroke-width="1.1"/>
<g fill="#ff0000" stroke="#ff0000" stroke-width="0"><circle cx="85.07" cy="619.6" r="2.55"/><circle cx="109.07" cy="619.6" r="2.55"/><circle cx="134.07" cy="619.6" r="2.55"/><circle cx="158.07" cy="619.6" r="2.55"/><circle cx="183.07" cy="619.6" r="2.55"/><circle cx="207.07" cy="619.6" r="2.55"/><circle cx="232.07" cy="619.6" r="2.55"/><circle cx="256.07" cy="619.6" r="2.55"/><circle cx="280.07" cy="619.6" r="2.55"/><circle cx="305.07" cy="619.6" r="2.55"/><circle cx="329.07" cy="619.6" r="2.55"/><circle cx="354.07" cy="619.6" r="2.55"/><circle cx="378.07" cy="619.6" r="2.55"/><circle cx="403.07" cy="619.6" r="2.55"/><circle cx="427.07" cy="619.6" r="2.55"/><circle cx="452.07" cy="619.6" r="2.55"/><circle cx="476.07" cy="619.6" r="2.55"/><circle cx="500.07" cy="619.6" r="2.55"/><circle cx="525.07" cy="619.6" r="2.55"/><circle cx="549.07" cy="619.6" r="2.55"/><circle cx="574.07" cy="619.6" r="2.55"/><circle cx="598.07" cy="619.6" r="2.55"/><circle cx="623.07" cy="619.6" r="2.55"/><circle cx="647.07" cy="619.6" r="2.55"/><circle cx="671.07" cy="619.6" r="2.55"/><circle cx="696.07" cy="619.6" r="2.55"/><circle cx="720.07" cy="619.6" r="2.55"/><circle cx="745.07" cy="619.6" r="2.55"/><circle cx="769.07" cy="619.6" r="2.55"/><circle cx="794.07" cy="619.6" r="2.55"/><circle cx="818.07" cy="619.6" r="2.55"/><circle cx="842.07" cy="619.6" r="2.55"/><circle cx="867.07" cy="619.6" r="2.55"/><circle cx="891.07" cy="619.6" r="2.55"/><circle cx="916.07" cy="619.6" r="2.55"/><circle cx="940.07" cy="619.6" r="2.55"/><circle cx="965.07" cy="619.6" r="2.55"/><circle cx="989.07" cy="619.6" r="2.55"/><circle cx="1014.07" cy="617.4" r="2.55"/><circle cx="1038.07" cy="615.3" r="2.55"/><circle cx="1062.07" cy="613.7" r="2.55"/><circle cx="1087.07" cy="611.6" r="2.55"/><circle cx="1111.07" cy="608.7" r="2.55"/><circle cx="1136.07" cy="602.85" r="2.55"/><circle cx="1160.07" cy="595.9" r="2.55"/><circle cx="1185.07" cy="589.3" r="2.55"/><circle cx="1209.07" cy="582.5" r="2.55"/><circle cx="1233.07" cy="573.4" r="2.55"/><circle cx="1258.07" cy="559.2" r="2.55"/><circle cx="1282.07" cy="542.7" r="2.55"/><circle cx="1307.07" cy="523" r="2.55"/><circle cx="1331.07" cy="474.1" r="2.55"/></g>
<path d="M85.07 153.9C94.67 155.42 99.45 156.31 109.07 157.7C119.05 159.15 124.03 160.24 134.07 161C143.63 161.72 148.47 161.2 158.07 161.4C168.07 161.6 173.08 161.55 183.07 162C192.68 162.43 197.56 162.28 207.07 163.6C217.16 165 222.2 166.22 232.07 168.8C241.8 171.34 246.59 173.02 256.07 176.4C265.79 179.86 270.31 182.57 280.07 185.9C289.91 189.25 294.93 190.88 305.07 193.1C314.53 195.16 319.48 195.15 329.07 196.6C339.08 198.11 344.2 198.34 354.07 200.5C363.8 202.62 368.47 204.58 378.07 207.3C388.07 210.14 393.71 210.14 403.07 214.4C413.31 219.06 417.17 224.06 427.07 229.6C436.77 235.02 442.18 236.71 452.07 241.8C461.78 246.79 466.36 249.82 476.07 254.8C485.56 259.66 490.51 261.68 500.07 266.4C510.11 271.36 515.31 273.54 525.07 279C534.91 284.5 539.88 287.29 549.07 293.8C559.48 301.17 564.37 305.39 574.07 313.7C583.97 322.19 588.7 326.72 598.07 335.8C608.3 345.72 613.43 350.71 623.07 361.2C633.03 372.03 636.94 378.44 647.07 389.1C656.14 398.64 660.82 403.48 671.07 411.7C680.42 419.2 686.17 421.57 696.07 428.4C705.77 435.09 710.96 438.06 720.07 445.5C730.56 454.06 734.61 459.8 745.07 468.4C754.21 475.92 758.97 479.68 769.07 485.8C778.57 491.56 783.79 493.86 794.07 498.1C803.39 501.94 808.34 503.32 818.07 506C827.54 508.6 832.4 509.56 842.07 511.3C852 513.08 857.06 513.49 867.07 514.8C876.66 516.05 881.46 516.68 891.07 517.7C901.06 518.76 906.06 519.24 916.07 520C925.66 520.72 930.47 520.89 940.07 521.4C950.07 521.93 955.07 522.21 965.07 522.6C974.67 522.97 979.47 523.05 989.07 523.3C999.07 523.57 1004.07 523.66 1014.07 523.9C1023.67 524.14 1028.47 524.26 1038.07 524.5C1047.67 524.74 1052.47 524.86 1062.07 525.1C1072.07 525.34 1077.07 525.46 1087.07 525.7C1096.67 525.94 1101.47 526.05 1111.07 526.3C1121.07 526.57 1126.08 526.49 1136.07 527C1145.68 527.49 1150.48 528 1160.07 528.8C1170.08 529.64 1175.06 530.28 1185.07 531.1C1194.66 531.88 1199.48 532.02 1209.07 532.8C1218.68 533.58 1223.53 533.68 1233.07 535C1243.13 536.4 1248.16 537.37 1258.07 539.6C1267.76 541.77 1272.44 543.54 1282.07 546C1292.04 548.54 1296.95 550.41 1307.07 552.1C1316.55 553.69 1321.47 553.36 1331.07 554.2" fill="none" stroke="#000000" stroke-width="1.1"/>
<g fill="#000000" stroke="#000000" stroke-width="0"><circle cx="85.07" cy="153.9" r="2.55"/><circle cx="109.07" cy="157.7" r="2.55"/><circle cx="134.07" cy="161" r="2.55"/><circle cx="158.07" cy="161.4" r="2.55"/><circle cx="183.07" cy="162" r="2.55"/><circle cx="207.07" cy="163.6" r="2.55"/><circle cx="232.07" cy="168.8" r="2.55"/><circle cx="256.07" cy="176.4" r="2.55"/><circle cx="280.07" cy="185.9" r="2.55"/><circle cx="305.07" cy="193.1" r="2.55"/><circle cx="329.07" cy="196.6" r="2.55"/><circle cx="354.07" cy="200.5" r="2.55"/><circle cx="378.07" cy="207.3" r="2.55"/><circle cx="403.07" cy="214.4" r="2.55"/><circle cx="427.07" cy="229.6" r="2.55"/><circle cx="452.07" cy="241.8" r="2.55"/><circle cx="476.07" cy="254.8" r="2.55"/><circle cx="500.07" cy="266.4" r="2.55"/><circle cx="525.07" cy="279" r="2.55"/><circle cx="549.07" cy="293.8" r="2.55"/><circle cx="574.07" cy="313.7" r="2.55"/><circle cx="598.07" cy="335.8" r="2.55"/><circle cx="623.07" cy="361.2" r="2.55"/><circle cx="647.07" cy="389.1" r="2.55"/><circle cx="671.07" cy="411.7" r="2.55"/><circle cx="696.07" cy="428.4" r="2.55"/><circle cx="720.07" cy="445.5" r="2.55"/><circle cx="745.07" cy="468.4" r="2.55"/><circle cx="769.07" cy="485.8" r="2.55"/><circle cx="794.07" cy="498.1" r="2.55"/><circle cx="818.07" cy="506" r="2.55"/><circle cx="842.07" cy="511.3" r="2.55"/><circle cx="867.07" cy="514.8" r="2.55"/><circle cx="891.07" cy="517.7" r="2.55"/><circle cx="916.07" cy="520" r="2.55"/><circle cx="940.07" cy="521.4" r="2.55"/><circle cx="965.07" cy="522.6" r="2.55"/><circle cx="989.07" cy="523.3" r="2.55"/><circle cx="1014.07" cy="523.9" r="2.55"/><circle cx="1038.07" cy="524.5" r="2.55"/><circle cx="1062.07" cy="525.1" r="2.55"/><circle cx="1087.07" cy="525.7" r="2.55"/><circle cx="1111.07" cy="526.3" r="2.55"/><circle cx="1136.07" cy="527" r="2.55"/><circle cx="1160.07" cy="528.8" r="2.55"/><circle cx="1185.07" cy="531.1" r="2.55"/><circle cx="1209.07" cy="532.8" r="2.55"/><circle cx="1233.07" cy="535" r="2.55"/><circle cx="1258.07" cy="539.6" r="2.55"/><circle cx="1282.07" cy="546" r="2.55"/><circle cx="1307.07" cy="552.1" r="2.55"/><circle cx="1331.07" cy="554.2" r="2.55"/></g>
</svg>
</body></html>
